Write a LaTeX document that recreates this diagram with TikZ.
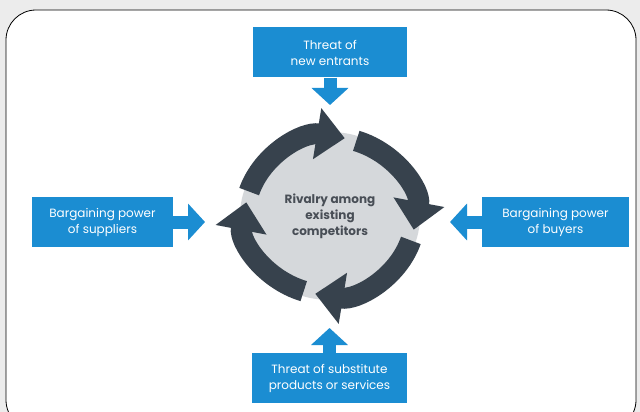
\documentclass[tikz,border=0pt]{standalone}
\usepackage{fontspec}
\setmainfont{Poppins}
\usetikzlibrary{arrows.meta}
\definecolor{pblue}{RGB}{27,141,210}
\definecolor{ring}{RGB}{55,66,77}
\definecolor{disk}{RGB}{213,216,219}
\definecolor{bg}{RGB}{236,236,236}
\definecolor{ctext}{RGB}{72,78,86}
\begin{document}
\begin{tikzpicture}[x=1pt,y=-1pt,
  force/.style={fill=pblue,text=white,align=center,font=\fontsize{12}{16}\selectfont,inner sep=0pt,minimum height=50pt},
  farrow/.style={draw=pblue,line width=13pt,-{Triangle[width=36pt,length=17pt]}},
  ringarrow/.style={draw=ring,line width=21pt,-{Triangle[width=50pt,length=28pt]}}]
\useasboundingbox (0,0) rectangle (640,412);
\fill[bg] (0,0) rectangle (640,412);
\draw[fill=white,line width=0.8pt,rounded corners=30pt] (6,10) rectangle (636,430);
% central disk
\coordinate (C) at (330,216);
\fill[disk] (C) ellipse [x radius=90, y radius=84];
\foreach \a in {0,90,180,270}{
  \draw[ringarrow] ([shift={(-162+\a:85 and 79)}]C) arc[start angle=-162+\a, end angle=-80+\a, x radius=85, y radius=79];
}
\node[text=ctext,align=center,font=\bfseries\fontsize{12}{16}\selectfont] (rival) at (C) {Rivalry among\\existing\\competitors};
% force boxes
\node[force,minimum width=154pt] (new) at (330,52.5) {Threat of\\new entrants};
\node[force,minimum width=141pt] (sup) at (102.5,222) {Bargaining power\\of suppliers};
\node[force,minimum width=147pt] (buy) at (555.5,222) {Bargaining power\\of buyers};
\node[force,minimum width=155pt] (sub) at (329.5,378) {Threat of substitute\\products or services};
\coordinate (newtip) at (330,105);
\coordinate (suptip) at (205,222);
\coordinate (buytip) at (450,222);
\coordinate (subtip) at (329.5,328);
\draw[farrow] (new.south) -- (newtip);
\draw[farrow] (sup.east) -- (suptip);
\draw[farrow] (buy.west) -- (buytip);
\draw[farrow] (sub.north) -- (subtip);
\end{tikzpicture}
\end{document}
